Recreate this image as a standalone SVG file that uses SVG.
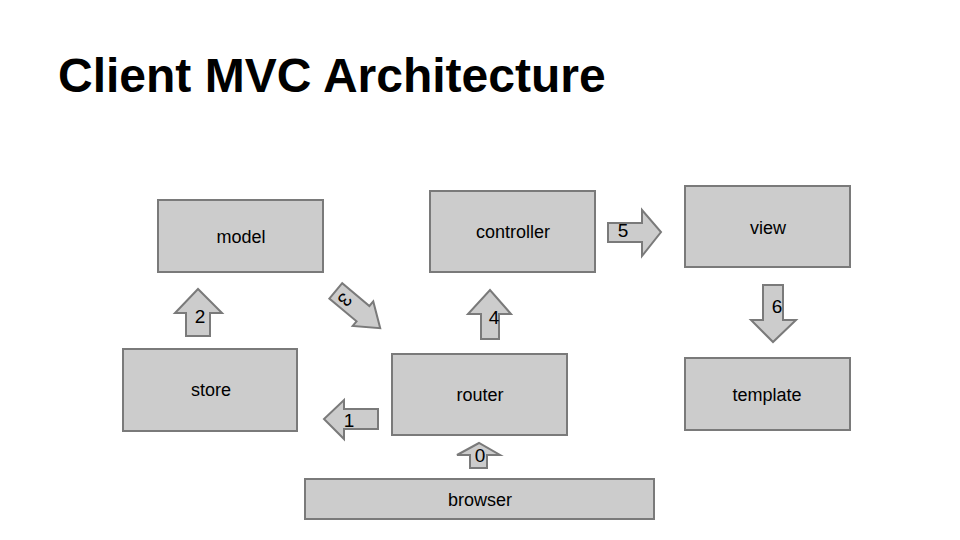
<svg xmlns="http://www.w3.org/2000/svg" width="960" height="540" viewBox="0 0 960 540">
  <style>
    .box { fill: #cccccc; stroke: #7a7a7a; stroke-width: 2; }
    .arrow { fill: #cccccc; stroke: #7a7a7a; stroke-width: 2; stroke-linejoin: miter; }
    .label { font-family: "Liberation Sans", Arial, sans-serif; font-size: 18px; fill: #000; text-anchor: middle; }
    .num { font-family: "Liberation Sans", Arial, sans-serif; font-size: 19px; fill: #000; text-anchor: middle; }
    .title { font-family: "Liberation Sans", Arial, sans-serif; font-size: 48px; font-weight: bold; fill: #000; }
  </style>
  <rect width="960" height="540" fill="#ffffff"/>
  <text class="title" x="58" y="92">Client MVC Architecture</text>

  <g id="model"><rect class="box" x="158" y="200" width="165" height="72"/><text class="label" x="241" y="243">model</text></g>
  <g id="controller"><rect class="box" x="430" y="191" width="165" height="81"/><text class="label" x="513" y="238">controller</text></g>
  <g id="view"><rect class="box" x="685" y="186" width="165" height="81"/><text class="label" x="768" y="234">view</text></g>
  <g id="store"><rect class="box" x="123" y="349" width="174" height="82"/><text class="label" x="211" y="396">store</text></g>
  <g id="router"><rect class="box" x="392" y="354" width="175" height="81"/><text class="label" x="480" y="401">router</text></g>
  <g id="template"><rect class="box" x="685" y="358" width="165" height="72"/><text class="label" x="767" y="401">template</text></g>
  <g id="browser"><rect class="box" x="305" y="479" width="349" height="40"/><text class="label" x="480" y="506">browser</text></g>

  <g id="connectors">
    <!-- 0: browser to router -->
    <g id="arrow0">
      <polygon class="arrow" points="470,468 487,468 487,455 500,455 479,443 457,455 470,455"/>
      <text class="num" x="480" y="462">0</text>
    </g>
    <!-- 1: router to store -->
    <g id="arrow1">
      <polygon class="arrow" points="378,409 378,429 344,429 344,439 324,419 344,400 344,409"/>
      <text class="num" x="349" y="427">1</text>
    </g>
    <!-- 2: store to model -->
    <g id="arrow2">
      <polygon class="arrow" points="186,336 210,336 210,313 222,313 198,289 175,313 186,313"/>
      <text class="num" x="200" y="323">2</text>
    </g>
    <!-- 3: model to router (up arrow turned to point down-right) -->
    <g id="arrow3" transform="translate(358,309.5) rotate(130)">
      <polygon class="arrow" points="-10,29 10,29 10,-6.5 16,-6.5 0,-29 -16,-6.5 -10,-6.5"/>
      <text class="num" x="1" y="23" font-size="18">3</text>
    </g>
    <!-- 4: router to controller -->
    <g id="arrow4">
      <polygon class="arrow" points="481,339 499,339 499,314 511,314 490,290 468,314 481,314"/>
      <text class="num" x="494" y="324">4</text>
    </g>
    <!-- 5: controller to view -->
    <g id="arrow5">
      <polygon class="arrow" points="608,223 642,223 642,210 661,232 642,256 642,242 608,242"/>
      <text class="num" x="623" y="237">5</text>
    </g>
    <!-- 6: view to template -->
    <g id="arrow6">
      <polygon class="arrow" points="763,285 783,285 783,320 796,320 773,342 751,320 763,320"/>
      <text class="num" x="777" y="313">6</text>
    </g>
  </g>
</svg>
